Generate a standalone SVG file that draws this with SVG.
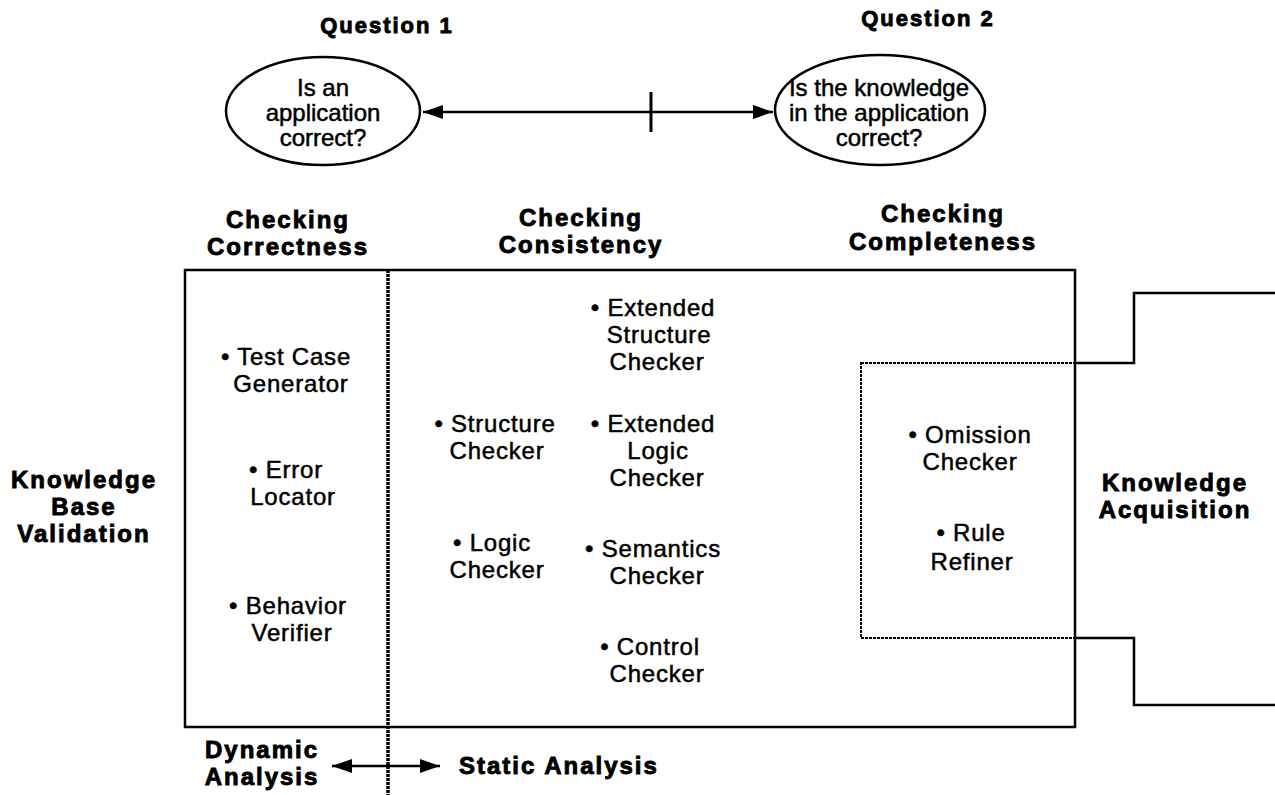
<svg xmlns="http://www.w3.org/2000/svg" width="1275" height="795" viewBox="0 0 1275 795">
<style>
text{font-family:"Liberation Sans",Arial,Helvetica,sans-serif;fill:#000;text-anchor:middle;stroke:#000}
.r{font-size:24px;letter-spacing:0.8px;stroke-width:0.5}
.e{font-size:24px;stroke-width:0.5}
.b{font-size:24px;font-weight:bold;letter-spacing:2px;stroke-width:0.9}
.ln{stroke:#000;stroke-width:2.5;fill:none}
.dot{stroke:#000;stroke-width:3.5;fill:none;stroke-dasharray:3 1}
.fdot{stroke:#000;stroke-width:2;fill:none;stroke-dasharray:3 1}
</style>
<defs>
<marker id="ah2" viewBox="0 0 20 14" refX="20" refY="7" markerWidth="20" markerHeight="14" orient="auto-start-reverse" markerUnits="userSpaceOnUse">
<path d="M0,0 L20,7 L0,14 z" fill="#000"/>
</marker>
</defs>
<rect width="1275" height="795" fill="#fff"/>

<g id="q1">
<text class="b" x="387" y="33" style="font-size:22px">Question 1</text>
<ellipse class="ln" cx="323" cy="111" rx="97" ry="54"/>
<text class="e" x="323" y="96">Is an</text>
<text class="e" x="323" y="121">application</text>
<text class="e" x="323" y="146">correct?</text>
</g>

<g id="q2">
<text class="b" x="928" y="26" style="font-size:22px">Question 2</text>
<ellipse class="ln" cx="880" cy="110" rx="105" ry="55"/>
<text class="e" x="879" y="96">Is the knowledge</text>
<text class="e" x="879" y="121">in the application</text>
<text class="e" x="879" y="146">correct?</text>
</g>

<g id="connectors">
<line class="ln" x1="423" y1="112" x2="773" y2="112" marker-start="url(#ah2)" marker-end="url(#ah2)"/>
<line x1="651" y1="92" x2="651" y2="132" stroke="#000" stroke-width="3"/>
<line class="ln" x1="332" y1="766" x2="440" y2="766" marker-start="url(#ah2)" marker-end="url(#ah2)"/>
</g>

<g id="headers">
<text class="b" x="288" y="228">Checking</text>
<text class="b" x="288" y="255">Correctness</text>
<text class="b" x="581" y="226">Checking</text>
<text class="b" x="581" y="253">Consistency</text>
<text class="b" x="943" y="222">Checking</text>
<text class="b" x="943" y="250">Completeness</text>
</g>

<g id="main-box">
<rect class="ln" x="185" y="270" width="890" height="457"/>
<line class="dot" x1="388" y1="270" x2="388" y2="795"/>
</g>

<g id="acquisition-box">
<rect class="fdot" x="861" y="363" width="214" height="275"/>
<path class="ln" d="M1075,363 H1134 V293 H1275"/>
<path class="ln" d="M1075,638 H1134 V705 H1275"/>
</g>

<g id="correctness-items">
<text class="r" x="286" y="365">• Test Case</text>
<text class="r" x="291" y="392">Generator</text>
<text class="r" x="286" y="478">• Error</text>
<text class="r" x="293" y="505">Locator</text>
<text class="r" x="288" y="614">• Behavior</text>
<text class="r" x="292" y="641">Verifier</text>
</g>

<g id="consistency-items">
<text class="r" x="495" y="432">• Structure</text>
<text class="r" x="497" y="459">Checker</text>
<text class="r" x="492" y="551">• Logic</text>
<text class="r" x="497" y="578">Checker</text>
<text class="r" x="653" y="316">• Extended</text>
<text class="r" x="659" y="343">Structure</text>
<text class="r" x="657" y="370">Checker</text>
<text class="r" x="653" y="432">• Extended</text>
<text class="r" x="658" y="459">Logic</text>
<text class="r" x="657" y="486">Checker</text>
<text class="r" x="653" y="557">• Semantics</text>
<text class="r" x="657" y="584">Checker</text>
<text class="r" x="650" y="655">• Control</text>
<text class="r" x="657" y="682">Checker</text>
</g>

<g id="completeness-items">
<text class="r" x="970" y="443">• Omission</text>
<text class="r" x="970" y="470">Checker</text>
<text class="r" x="971" y="541">• Rule</text>
<text class="r" x="972" y="570">Refiner</text>
</g>

<g id="kb-validation">
<text class="b" x="84" y="488">Knowledge</text>
<text class="b" x="84" y="515">Base</text>
<text class="b" x="84" y="542">Validation</text>
</g>

<g id="kb-acquisition">
<text class="b" x="1175" y="491">Knowledge</text>
<text class="b" x="1175" y="518">Acquisition</text>
</g>

<g id="analysis">
<text class="b" x="262" y="758">Dynamic</text>
<text class="b" x="262" y="785">Analysis</text>
<text class="b" x="459" y="774" style="text-anchor:start">Static Analysis</text>
</g>
</svg>
